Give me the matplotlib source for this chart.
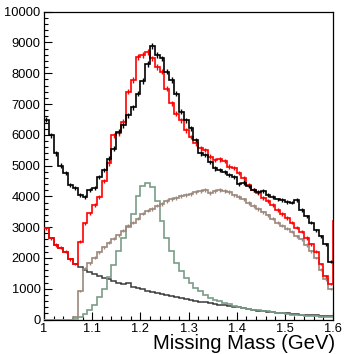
import numpy as np
import matplotlib
matplotlib.use("Agg")
import matplotlib.pyplot as plt
from matplotlib.ticker import MultipleLocator, FixedLocator

# ============================================================
# Data (60 bins of 0.01 GeV from 1.0 to 1.6)
# ============================================================

bin_edges = np.round(np.arange(1.0, 1.6001, 0.01), 3)

data_counts = [6490, 5990, 5400, 5000, 4750, 4370, 4260, 4040, 3990, 4200,
               4260, 4640, 4850, 5230, 5550, 6100, 6310, 6640, 6900, 7340,
               7750, 8300, 8880, 8590, 8480, 8050, 7780, 7340, 6750, 6480,
               6210, 5830, 5400, 5340, 5120, 4910, 4850, 4780, 4700, 4620,
               4400, 4450, 4350, 4220, 4150, 4180, 4050, 3980, 3900, 3870,
               3820, 3800, 3880, 3550, 3350, 3150, 2900, 2700, 2450, 1880]

# fit sum, one extra bin past 1.6 (only its rising edge shows)
fit_total = [2960, 2640, 2420, 2330, 2200, 1950, 1800, 2530, 3120, 3450,
             3720, 3990, 4500, 5070, 5990, 6050, 6420, 7400, 7780, 8530,
             8590, 8690, 8480, 8210, 8050, 7500, 7020, 6690, 6480, 6150,
             5930, 5720, 5560, 5500, 5290, 5180, 5200, 5140, 4970, 4920,
             4760, 4590, 4380, 4220, 4110, 3950, 3850, 3720, 3550, 3420,
             3300, 3150, 2980, 2850, 2650, 2450, 2200, 1800, 1400, 1150, 3200]

broad_comp = [0, 0, 0, 0, 0, 0, 90, 940, 1650, 1820,
              2010, 2180, 2340, 2500, 2630, 2730, 2890, 3050, 3150, 3280,
              3440, 3540, 3600, 3700, 3760, 3860, 3920, 3960, 4000, 4050,
              4090, 4150, 4180, 4200, 4110, 4180, 4200, 4180, 4130, 4030,
              3980, 3900, 3780, 3680, 3580, 3480, 3380, 3280, 3150, 3050,
              2950, 2850, 2700, 2600, 2420, 2220, 2000, 1620, 1300, 1000]

delta_comp = [0, 0, 0, 0, 0, 0, 30, 90, 180, 300,
              480, 720, 1000, 1375, 1775, 2210, 2645, 2990, 3440, 4000,
              4350, 4450, 4300, 3850, 3190, 2650, 2220, 1840, 1570, 1350,
              1190, 1030, 920, 810, 700, 640, 590, 540, 490, 450,
              410, 380, 350, 320, 300, 280, 260, 240, 220, 195,
              175, 160, 145, 135, 120, 110, 100, 90, 80, 70]

bkg_comp = [2960, 2640, 2420, 2330, 2200, 1950, 1800, 1700, 1620, 1550,
            1480, 1420, 1360, 1300, 1240, 1200, 1150, 1170, 1060, 1020,
            980, 940, 900, 860, 820, 790, 760, 730, 700, 670,
            640, 610, 580, 555, 530, 505, 480, 460, 440, 420,
            390, 360, 330, 310, 290, 270, 255, 240, 225, 210,
            195, 180, 170, 160, 150, 140, 130, 120, 110, 100]

x_ticks = [1.0, 1.1, 1.2, 1.3, 1.4, 1.5, 1.6]
x_tick_labels = ["1", "1.1", "1.2", "1.3", "1.4", "1.5", "1.6"]
y_ticks = list(range(0, 10001, 1000))


# ============================================================
# Helpers
# ============================================================

def draw_hist(ax, edges, counts, color, lw=1.2, errors=False, z=2):
    counts = np.asarray(counts, dtype=float)
    ax.stairs(counts, edges, color=color, linewidth=lw, baseline=None, zorder=z)
    if errors:
        centers = 0.5 * (edges[:-1] + edges[1:])
        ax.errorbar(centers, counts, yerr=np.sqrt(counts), fmt="none",
                    ecolor=color, elinewidth=1.0, capsize=0, zorder=z)


# ============================================================
# Figure
# ============================================================

plt.rcParams["font.family"] = ["Liberation Sans", "DejaVu Sans"]

fig = plt.figure(figsize=(3.45, 3.54), dpi=100, facecolor="white")
ax = fig.add_axes([44 / 345, 1 - 319.5 / 354, 289 / 345, 307.8 / 354])

edges = bin_edges
edges_ext = np.append(edges, 1.61)

draw_hist(ax, edges, bkg_comp, "#3a3a3a", lw=1.1, z=2)
draw_hist(ax, edges, delta_comp, "#7a9c88", lw=1.2, z=3)
draw_hist(ax, edges, broad_comp, "#9b877c", lw=1.2, errors=True, z=4)
draw_hist(ax, edges_ext, fit_total, "#ff0000", lw=1.2, errors=True, z=5)
draw_hist(ax, edges, data_counts, "#000000", lw=1.2, errors=True, z=6)

ax.set_xlim(1.0, 1.6)
ax.set_ylim(0, 10000)

ax.xaxis.set_major_locator(FixedLocator(x_ticks))
ax.set_xticklabels(x_tick_labels)
ax.xaxis.set_minor_locator(MultipleLocator(0.02))
ax.yaxis.set_major_locator(FixedLocator(y_ticks))
ax.yaxis.set_minor_locator(MultipleLocator(200))

ax.tick_params(which="both", direction="in", top=False, right=False,
               labelsize=9.3, colors="#000000")
ax.tick_params(which="major", length=6, width=0.8)
ax.tick_params(which="minor", length=3, width=0.8)
ax.tick_params(axis="y", pad=2.5)
ax.tick_params(axis="x", pad=2.5)

for spine in ax.spines.values():
    spine.set_linewidth(0.9)
    spine.set_color("#000000")

fig.text(335 / 345, 1 - 349 / 354, "Missing Mass (GeV)", ha="right",
         va="baseline", fontsize=14.6, color="#000000")

fig.savefig("out.png", dpi=100, facecolor="white")
